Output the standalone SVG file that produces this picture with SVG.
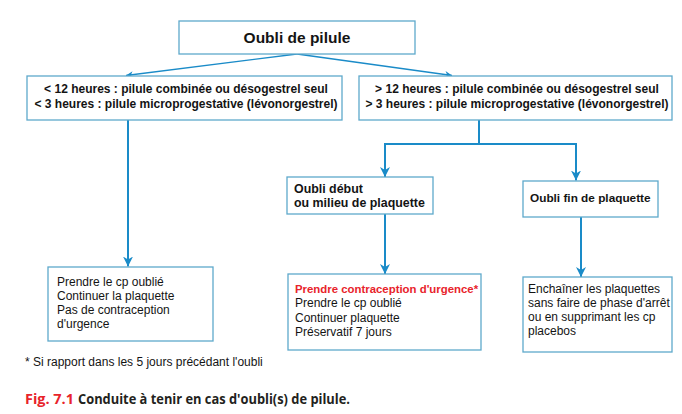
<svg xmlns="http://www.w3.org/2000/svg" width="682" height="414" viewBox="0 0 682 414">
<style>
.box{fill:#fff;stroke:#5ea9cb;stroke-width:1.3}
.b{font-family:"Liberation Sans",Arial,sans-serif;font-weight:bold;fill:#141414}
.r{font-family:"Liberation Sans",Arial,sans-serif;font-size:12px;fill:#141414}
.con{fill:none;stroke:#1a8bc8;stroke-width:2}
.thin{fill:none;stroke:#1a8bc8;stroke-width:1.3}
.cap{font-family:"Open Sans","Liberation Sans",sans-serif;font-weight:700;font-size:15px}
</style>
<defs>
<marker id="ah" viewBox="0 0 10 10" refX="10" refY="5" markerWidth="10" markerHeight="10" markerUnits="userSpaceOnUse" orient="auto">
<path d="M0,0 L10,5 L0,10 L3,5 z" fill="#1a8bc8"/>
</marker>
<marker id="ahs" viewBox="0 0 10 10" refX="10" refY="5" markerWidth="7" markerHeight="7" markerUnits="userSpaceOnUse" orient="auto">
<path d="M0,0 L10,5 L0,10 L3,5 z" fill="#1a8bc8"/>
</marker>
</defs>
<rect width="682" height="414" fill="#fff"/>

<g id="connectors">
<path class="thin" d="M297,54 L126,75.5" marker-end="url(#ahs)"/>
<path class="thin" d="M297,54 L452,75.5" marker-end="url(#ahs)"/>
<path class="con" d="M128,120 L128,266.5" marker-end="url(#ah)"/>
<path class="con" d="M479,120 L479,144"/>
<path class="con" d="M384,144 L577,144"/>
<path class="con" d="M385,143 L385,177" marker-end="url(#ah)"/>
<path class="con" d="M576,143 L576,180.5" marker-end="url(#ah)"/>
<path class="con" d="M385,214 L385,274" marker-end="url(#ah)"/>
<path class="con" d="M581,217 L581,277" marker-end="url(#ah)"/>
</g>

<g id="n-top">
<rect class="box" x="179" y="21" width="236" height="33"/>
<text class="b" x="297" y="43" font-size="15.5" text-anchor="middle">Oubli de pilule</text>
</g>

<g id="n-left">
<rect class="box" x="27" y="76" width="315" height="44"/>
<text class="b" x="186" y="93" font-size="12" text-anchor="middle">&lt; 12 heures : pilule combinée ou désogestrel seul</text>
<text class="b" x="186" y="108" font-size="12" text-anchor="middle">&lt; 3 heures : pilule microprogestative (lévonorgestrel)</text>
</g>

<g id="n-right">
<rect class="box" x="359" y="76" width="313" height="44"/>
<text class="b" x="517" y="93" font-size="12" text-anchor="middle">&gt; 12 heures : pilule combinée ou désogestrel seul</text>
<text class="b" x="517" y="108" font-size="12" text-anchor="middle">&gt; 3 heures : pilule microprogestative (lévonorgestrel)</text>
</g>

<g id="n-debut">
<rect class="box" x="287" y="177" width="146" height="37"/>
<text class="b" x="294" y="193" font-size="12.4">Oubli début</text>
<text class="b" x="294" y="207" font-size="12.4">ou milieu de plaquette</text>
</g>

<g id="n-fin">
<rect class="box" x="523" y="181" width="135" height="36"/>
<text class="b" x="530" y="202" font-size="11.8">Oubli fin de plaquette</text>
</g>

<g id="n-res1">
<rect class="box" x="48" y="267" width="165" height="74"/>
<text class="r" x="57" y="286">Prendre le cp oublié</text>
<text class="r" x="57" y="300">Continuer la plaquette</text>
<text class="r" x="57" y="314">Pas de contraception</text>
<text class="r" x="57" y="328">d'urgence</text>
</g>

<g id="n-res2">
<rect class="box" x="288" y="274" width="193" height="76"/>
<text class="b" x="295" y="293" font-size="11.4" style="fill:#e8232b">Prendre contraception d'urgence*</text>
<text class="r" x="295" y="307">Prendre le cp oublié</text>
<text class="r" x="295" y="322">Continuer plaquette</text>
<text class="r" x="295" y="336">Préservatif 7 jours</text>
</g>

<g id="n-res3">
<rect class="box" x="523" y="277" width="149" height="75"/>
<text class="r" x="528" y="293">Enchaîner les plaquettes</text>
<text class="r" x="528" y="307">sans faire de phase d'arrêt</text>
<text class="r" x="528" y="321">ou en supprimant les cp</text>
<text class="r" x="528" y="335">placebos</text>
</g>

<text class="r" x="25" y="366">* Si rapport dans les 5 jours précédant l'oubli</text>

<text class="cap" x="25" y="404" fill="#e8232b" textLength="49" lengthAdjust="spacingAndGlyphs">Fig. 7.1</text>
<text class="cap" x="78" y="404" fill="#231f20" textLength="272" lengthAdjust="spacingAndGlyphs">Conduite à tenir en cas d'oubli(s) de pilule.</text>
</svg>
